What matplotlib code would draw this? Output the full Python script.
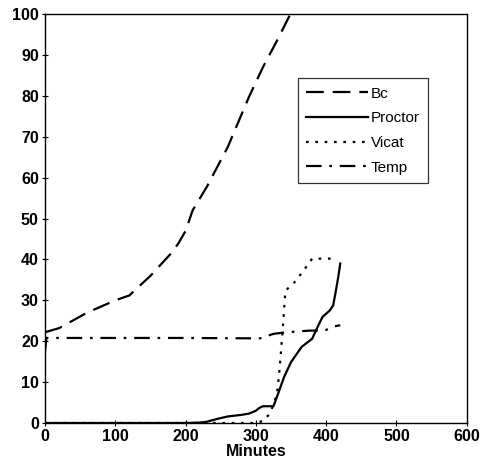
import matplotlib
matplotlib.use("Agg")
import matplotlib.pyplot as plt

plt.rcParams['font.family'] = ['Liberation Sans', 'DejaVu Sans']

bc_x = [0, 20, 60, 100, 120, 150, 180, 190, 200, 210, 230, 260, 290, 310, 330, 349, 360]
bc_y = [22.2, 23.2, 27, 30, 31.2, 36, 41.6, 44, 47, 52, 57.7, 67.5, 79.7, 87, 93.5, 100, 104]

proctor_x = [0, 100, 200, 220, 230, 245, 260, 280, 290, 300, 305, 310, 325, 330, 340, 350, 365, 380, 390, 395, 405, 410, 413, 417, 420]
proctor_y = [0, 0, 0, 0.1, 0.3, 1.0, 1.6, 2.0, 2.3, 3.0, 3.7, 4.1, 4.1, 6.4, 11.2, 14.9, 18.6, 20.6, 24.3, 26, 27.5, 28.8, 31.6, 35.5, 39]

vicat_x = [0, 100, 200, 300, 310, 320, 330, 334, 339, 342, 353, 368, 380, 400, 415]
vicat_y = [0, 0, 0, 0, 0.5, 2.3, 7, 13.7, 25, 32.4, 34, 37.3, 40.2, 40.2, 40.2]

temp_x = [0, 2, 100, 200, 300, 306, 325, 344, 377, 398, 410, 420]
temp_y = [17.5, 20.8, 20.8, 20.8, 20.7, 20.7, 21.8, 22.2, 22.6, 22.6, 23.6, 23.9]

xticks = [0, 100, 200, 300, 400, 500, 600]
yticks = [0, 10, 20, 30, 40, 50, 60, 70, 80, 90, 100]

fig = plt.figure(figsize=(4.82, 4.70), dpi=100)
ax = fig.add_axes([0.0934, 0.1, 0.875, 0.870])

lw = 1.6
ax.plot(bc_x, bc_y, color='black', lw=lw, ls=(0, (8, 4)), label='Bc')
ax.plot(proctor_x, proctor_y, color='black', lw=lw, ls='-', label='Proctor')
ax.plot(vicat_x, vicat_y, color='black', lw=lw, ls=(0, (1.2, 3)), label='Vicat')
ax.plot(temp_x, temp_y, color='black', lw=lw, ls=(0, (7, 3.5, 1.2, 3.5)), label='Temp')

ax.set_xlim(0, 600)
ax.set_ylim(0, 100)
ax.set_xticks(xticks)
ax.set_yticks(yticks)
ax.tick_params(direction='inout', length=5, width=0.8, labelsize=11.5, pad=2)
for lab in ax.get_xticklabels() + ax.get_yticklabels():
    lab.set_fontweight('bold')
ax.set_xlabel('Minutes', fontsize=11.5, fontweight='bold', labelpad=0)
for s in ax.spines.values():
    s.set_linewidth(1.0)

leg = ax.legend(loc='upper left', bbox_to_anchor=(0.6, 0.843),
                frameon=True, fancybox=False, edgecolor='black', fontsize=11,
                handlelength=4.0, handletextpad=0.2, borderpad=0.55, labelspacing=0.7,
                borderaxespad=0)
leg.get_frame().set_linewidth(0.9)

fig.savefig('out.png', dpi=100)
